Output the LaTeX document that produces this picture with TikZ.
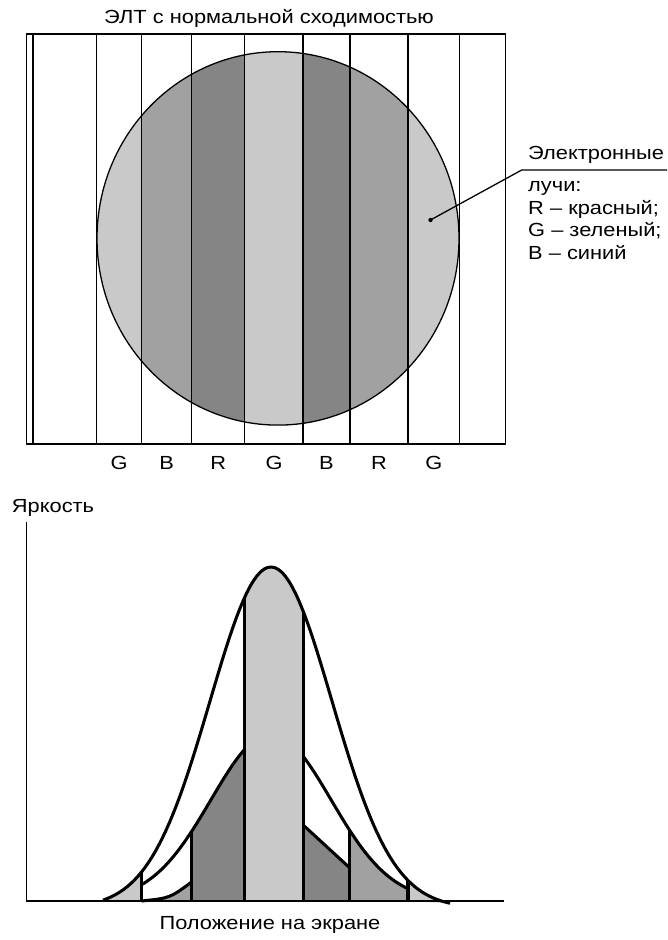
\documentclass[tikz,border=0pt]{standalone}
\usepackage{fontspec}
\setmainfont{Liberation Sans}[FakeStretch=1.15]
\usetikzlibrary{positioning}
\definecolor{lightfill}{gray}{0.79}
\definecolor{midfill}{gray}{0.63}
\definecolor{darkfill}{gray}{0.52}
\begin{document}
\begin{tikzpicture}[x=0.3mm, y=-0.3mm, samples=40,
  declare function={
    gout(\x)=901-334*(exp(-0.5*((\x-271)/61)^2)-0.02)/0.98;
    gmid(\x)=901-167*exp(-0.5*((\x-271)/60)^2);
  }]

\tikzset{
  lbl/.style={font=\fontsize{16.2}{19.5}\selectfont, inner sep=0pt},
  thinline/.style={line width=1.1pt},
  axisline/.style={line width=1.3pt},
  thickline/.style={line width=2.6pt, line join=round},
  dot/.style={circle, fill, inner sep=0pt, minimum size=1.3mm}
}

\useasboundingbox (0,0) rectangle (667,940);

% ==========================
% CRT screen (top)
% ==========================
\node[lbl] (title) at (269,18) {ЭЛТ с нормальной сходимостью};

\begin{scope}
  \clip (278,238.4) ellipse [x radius=181, y radius=186.7];
  \foreach \xa/\xb/\tone in {96.2/141.7/lightfill, 141.7/191.6/midfill,
      191.6/244.8/darkfill, 244.8/303.1/lightfill, 303.1/349.9/darkfill,
      349.9/408/midfill, 408/459.6/lightfill}
    \fill[\tone] (\xa,40) rectangle (\xb,440);
\end{scope}
\draw[thinline] (278,238.4) ellipse [x radius=181, y radius=186.7];

\draw[thinline] (26.4,34) rectangle (505.5,444);
\foreach \xs in {33,96.2,141.7,191.6,244.8,303.1,349.9,408,459.6}
  \draw[thinline] (\xs,34) -- (\xs,444);

% stripe letters
\foreach \lx/\ch [count=\i] in {119/G,166.6/B,218.2/R,274/G,326.5/B,379/R,433.8/G}
  \node[lbl] (stripe\i) at (\lx,463) {\ch};

% beam legend
\node[dot] (beam) at (430.5,220) {};
\coordinate (knee) at (521.7,170);
\coordinate (tail) at (667,170);
\draw[thinline] (beam.center) -- (knee) -- (tail);
\node[lbl, anchor=base west] (beams) at (528,159.5) {Электронные};
\node[lbl, anchor=north west, align=left] (legend) at (528,181)
  {лучи:\\R – красный;\\G – зеленый;\\B – синий};

% ==========================
% Brightness profile (bottom)
% ==========================
\node[lbl] (ylab) at (53,508) {Яркость};
\node[lbl] (xlab) at (270,925) {Положение на экране};

\fill[lightfill] plot[domain=103:141.7] (\x,{gout(\x)}) -- (141.7,901) -- cycle;
\fill[midfill] (141.7,901) .. controls (170,898) .. (191.6,882) -- (191.6,901) -- cycle;
\fill[darkfill] plot[domain=191.6:244.8] (\x,{gmid(\x)}) -- (244.8,901) -- (191.6,901) -- cycle;
\fill[lightfill] plot[domain=244.8:303.1] (\x,{gout(\x)}) -- (303.1,901) -- (244.8,901) -- cycle;
\fill[darkfill] (303.1,901) -- (303.1,825) -- (349.9,868) -- (349.9,901) -- cycle;
\fill[midfill] plot[domain=349.9:408] (\x,{gmid(\x)}) -- (408,901) -- (349.9,901) -- cycle;
\fill[lightfill] plot[domain=408:450] (\x,{gout(\x)}) -- (408,901) -- cycle;

\draw[thickline] plot[domain=103:450, samples=100] (\x,{gout(\x)});
\draw[thickline] plot[domain=141.7:244.8] (\x,{gmid(\x)});
\draw[thickline] plot[domain=303.1:408] (\x,{gmid(\x)});
\draw[thickline] (141.7,901) .. controls (170,898) .. (191.6,882);
\draw[thickline] (303.1,825) -- (349.9,868);
\foreach \xv/\fn in {141.7/gout,191.6/gmid,244.8/gout,303.1/gout,349.9/gmid,408/gout}
  \draw[thickline] (\xv,{\fn(\xv)}) -- (\xv,901);

\coordinate (ytop) at (26.4,522);
\coordinate (origin) at (26.4,901);
\coordinate (xend) at (504,901);
\draw[axisline] (ytop) -- (origin) -- (xend);

\end{tikzpicture}
\end{document}
